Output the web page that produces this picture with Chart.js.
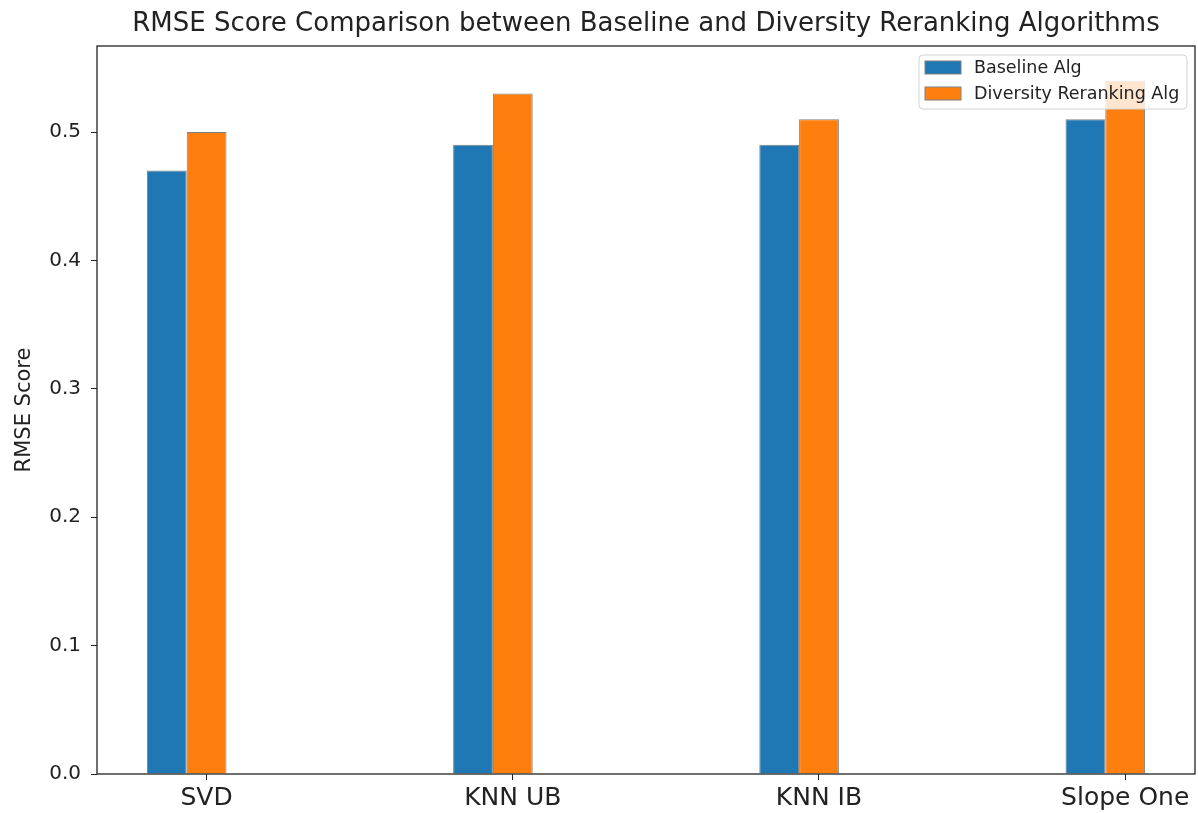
<!DOCTYPE html>
<html>
<head>
<meta charset="utf-8">
<script src="https://cdn.jsdelivr.net/npm/chart.js@4.4.1/dist/chart.umd.min.js"></script>
<style>
  html, body { margin: 0; padding: 0; background: #fff; }
  #wrap { width: 1198px; height: 813px; }
</style>
</head>
<body>
<div id="wrap"><canvas id="myChart" width="1198" height="813"></canvas></div>
<script>
const categories = ['SVD', 'KNN UB', 'KNN IB', 'Slope One'];
const baselineScores = [0.47, 0.49, 0.49, 0.51];
const diversityScores = [0.50, 0.53, 0.51, 0.54];
const seriesNames = ['Baseline Alg', 'Diversity Reranking Alg'];
const yTicks = [0.0, 0.1, 0.2, 0.3, 0.4, 0.5];
const chartTitle = 'RMSE Score Comparison between Baseline and Diversity Reranking Algorithms';

const BAR_W = 0.13;
const FONT = '"DejaVu Sans", sans-serif';

// matplotlib-like box around plot area, title over the axes, legend inside upper right
const framePlugin = {
  id: 'frame',
  afterDatasetsDraw(chart) {
    const { ctx, chartArea: a } = chart;
    ctx.save();
    ctx.strokeStyle = '#222';
    ctx.lineWidth = 1.3;
    ctx.strokeRect(a.left, a.top, a.right - a.left, a.bottom - a.top);

    // title centered on the plot area
    ctx.font = '26px ' + FONT;
    ctx.fillStyle = '#222';
    ctx.textAlign = 'center';
    ctx.textBaseline = 'middle';
    ctx.fillText(chartTitle, (a.left + a.right) / 2, 24);

    // legend
    const w = 268, h = 54;
    const x = a.right - 8 - w, y = a.top + 9;
    ctx.beginPath();
    ctx.roundRect(x, y, w, h, 4);
    ctx.fillStyle = 'rgba(255,255,255,0.8)';
    ctx.fill();
    ctx.strokeStyle = '#d4d4d4';
    ctx.lineWidth = 1;
    ctx.stroke();
    const colors = ['#1f77b4', '#ff7f0e'];
    ctx.font = '17.5px ' + FONT;
    ctx.textAlign = 'left';
    seriesNames.forEach((name, i) => {
      const sy = y + 6 + i * 26;
      ctx.fillStyle = colors[i];
      ctx.fillRect(x + 6, sy, 36, 13);
      ctx.strokeStyle = '#808080';
      ctx.strokeRect(x + 6, sy, 36, 13);
      ctx.fillStyle = '#222';
      ctx.fillText(name, x + 55, sy + 7);
    });
    ctx.restore();
  }
};

const ctx = document.getElementById('myChart').getContext('2d');
const myChart = new Chart(ctx, {
  type: 'bar',
  data: {
    datasets: [{
      label: seriesNames[0],
      data: categories.map((c, i) => ({ x: i, y: baselineScores[i] })),
      backgroundColor: '#1f77b4',
      borderColor: '#808080',
      borderWidth: 1
    }, {
      label: seriesNames[1],
      data: categories.map((c, i) => ({ x: i, y: diversityScores[i] })),
      backgroundColor: '#ff7f0e',
      borderColor: '#808080',
      borderWidth: 1
    }]
  },
  options: {
    responsive: false,
    animation: false,
    devicePixelRatio: 1,
    barPercentage: 1,
    categoryPercentage: BAR_W * 2,
    layout: { padding: { left: 0, right: 3, top: 46, bottom: 0 } },
    plugins: {
      legend: { display: false },
      tooltip: { enabled: false },
      title: { display: false }
    },
    scales: {
      x: {
        type: 'linear',
        offset: false,
        min: -BAR_W - 0.163,
        max: 3 + BAR_W + 0.163,
        afterBuildTicks(scale) {
          scale.ticks = categories.map((c, i) => ({ value: i + BAR_W / 2 }));
        },
        afterFit(scale) { scale.height = 39; },
        ticks: {
          autoSkip: false,
          maxRotation: 0,
          color: '#222',
          padding: 3,
          font: { family: FONT, size: 25 },
          callback: (v) => categories[Math.round(v - BAR_W / 2)]
        },
        grid: { offset: false, drawOnChartArea: false, drawTicks: true, tickLength: 6, color: '#222' },
        border: { display: false }
      },
      y: {
        min: 0,
        max: 0.567,
        afterBuildTicks(scale) {
          scale.ticks = yTicks.map(v => ({ value: v }));
        },
        afterFit(scale) { scale.width = 97; },
        ticks: {
          color: '#222',
          padding: 10,
          font: { family: FONT, size: 20 },
          callback: (v) => v.toFixed(1)
        },
        title: {
          display: true,
          text: 'RMSE Score',
          color: '#222',
          font: { family: FONT, size: 21 },
          padding: { top: 12, bottom: 6 }
        },
        grid: { drawOnChartArea: false, drawTicks: true, tickLength: 6, color: '#222' },
        border: { display: false }
      }
    }
  },
  plugins: [framePlugin]
});
</script>
</body>
</html>
